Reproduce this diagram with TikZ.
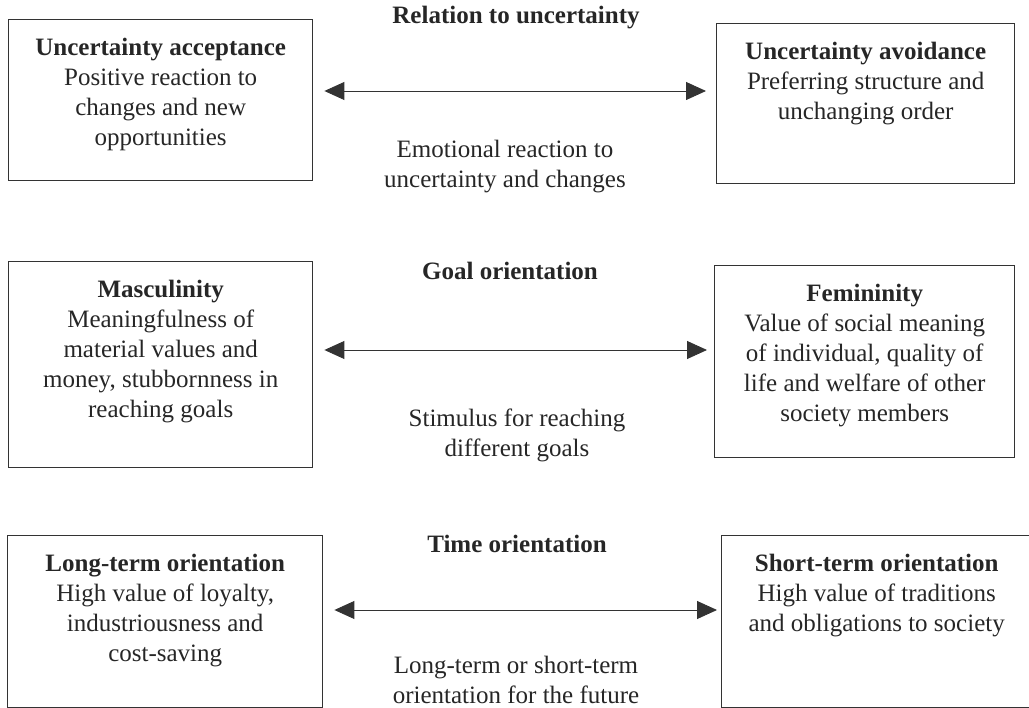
\documentclass[tikz,border=0pt]{standalone}
\usepackage{fontspec}
\setmainfont{Liberation Serif}
\usetikzlibrary{arrows.meta,positioning}

\begin{document}

\begin{tikzpicture}[x=1pt, y=-1pt,
  every node/.style = {align=center, inner sep=0pt, text=black!85,
    font=\fontsize{25}{30}\selectfont},
  dimbox/.style = {rectangle, draw=black!80, line width=1.4pt,
    anchor=north west},
  heading/.style = {font=\fontsize{25}{30}\selectfont\bfseries},
  twoway/.style = {{Triangle[length=20pt,width=18pt]}-{Triangle[length=20pt,width=18pt]},
    line width=0.9pt, draw=black!80}]
  \clip (0,0) rectangle (1029,708);

  % relation to uncertainty
  \node[heading] (rel) at (516,18) {Relation to uncertainty};
  \node[dimbox, minimum width=304pt, minimum height=161pt] (acc) at (8,19) {};
  \node[dimbox, minimum width=298pt, minimum height=160pt] (avo) at (716,23) {};
  \node[below=19pt of acc.north] (acctxt)
    {\textbf{Uncertainty acceptance}\\Positive reaction to\\changes and new\\opportunities};
  \node[below=19pt of avo.north] (avotxt)
    {\textbf{Uncertainty avoidance}\\Preferring structure and\\unchanging order};
  \node (reldesc) at (505,167) {Emotional reaction to\\uncertainty and changes};
  \coordinate (rel lvl) at (0,91);
  \draw[twoway, shorten <=11pt, shorten >=10pt] (acc.east |- rel lvl) -- (avo.west |- rel lvl);

  % goal orientation
  \node[heading] (goal) at (510,271) {Goal orientation};
  \node[dimbox, minimum width=304pt, minimum height=206pt] (mas) at (8,261) {};
  \node[dimbox, minimum width=300pt, minimum height=192pt] (fem) at (714,265) {};
  \node[below=19pt of mas.north] (mastxt)
    {\textbf{Masculinity}\\Meaningfulness of\\material values and\\money, stubbornness in\\reaching goals};
  \node[below=19pt of fem.north] (femtxt)
    {\textbf{Femininity}\\Value of social meaning\\of individual, quality of\\life and welfare of other\\society members};
  \node (goaldesc) at (517,435) {Stimulus for reaching\\different goals};
  \coordinate (goal lvl) at (0,350);
  \draw[twoway, shorten <=11pt, shorten >=7pt] (mas.east |- goal lvl) -- (fem.west |- goal lvl);

  % time orientation
  \node[heading] (time) at (517,544) {Time orientation};
  \node[dimbox, minimum width=315pt, minimum height=172pt] (lto) at (7,535) {};
  \node[dimbox, minimum width=310pt, minimum height=172pt] (sto) at (721,535) {};
  \node[below=19pt of lto.north] (ltotxt)
    {\textbf{Long-term orientation}\\High value of loyalty,\\industriousness and\\cost-saving};
  \node[below=19pt of sto.north] (stotxt)
    {\textbf{Short-term orientation}\\High value of traditions\\and obligations to society};
  \node (timedesc) at (516,680) {Long-term or short-term\\orientation for the future};
  \coordinate (time lvl) at (0,610);
  \draw[twoway, shorten <=11pt, shorten >=4pt] (lto.east |- time lvl) -- (sto.west |- time lvl);
\end{tikzpicture}

\end{document}
